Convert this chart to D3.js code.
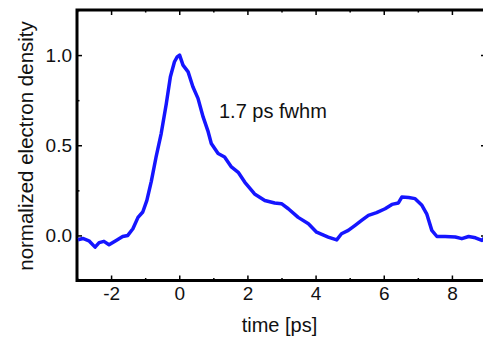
<!DOCTYPE html>
<meta charset="utf-8">
<head>
    <script type="text/javascript" src="https://cdn.jsdelivr.net/npm/d3@7"></script>
    <style>
        body { margin: 0; background: #fff; }
        text { font-family: "Liberation Sans", Arial, sans-serif; fill: #111; }
    </style>
    <title></title>
</head>
<body>
    <script>
        // data
        var times = [-2.97, -2.83, -2.65, -2.47, -2.35, -2.21, -2.06, -1.85, -1.66, -1.51,
                     -1.36, -1.21, -1.07, -0.95, -0.82, -0.68, -0.53, -0.38, -0.26, -0.14,
                     -0.06, 0.01, 0.11, 0.26, 0.40, 0.55, 0.70, 0.84, 0.94, 1.14,
                     1.33, 1.53, 1.73, 1.92, 2.21, 2.51, 2.80, 3.00, 3.20, 3.49,
                     3.79, 4.03, 4.37, 4.62, 4.76, 4.96, 5.16, 5.35, 5.55, 5.79,
                     6.04, 6.24, 6.43, 6.53, 6.73, 6.92, 7.12, 7.26, 7.41, 7.56,
                     7.80, 8.10, 8.29, 8.49, 8.69, 8.88, 8.97];
        var density = [-0.024, -0.017, -0.030, -0.065, -0.040, -0.033, -0.052, -0.028, -0.006, 0.000,
                       0.037, 0.100, 0.130, 0.194, 0.300, 0.435, 0.565, 0.730, 0.880, 0.963,
                       0.990, 1.000, 0.944, 0.907, 0.824, 0.760, 0.657, 0.580, 0.510, 0.454,
                       0.435, 0.380, 0.350, 0.296, 0.230, 0.194, 0.180, 0.176, 0.148, 0.100,
                       0.065, 0.018, -0.009, -0.025, 0.009, 0.028, 0.056, 0.083, 0.111, 0.126,
                       0.148, 0.172, 0.180, 0.213, 0.210, 0.204, 0.167, 0.120, 0.028, -0.006,
                       -0.006, -0.009, -0.018, -0.006, -0.013, -0.028, -0.010];
        var xMajor = [-2, 0, 2, 4, 6, 8];
        var xMinor = [-3, -1, 1, 3, 5, 7, 9];
        var yMajor = [0, 0.5, 1.0];
        var yMinor = [-0.25, 0.25, 0.75, 1.25];

        var width = 483, height = 338;
        var plot = {left: 77, right: 486, top: 10, bottom: 280.5};

        var svg = d3.select("body").append("svg")
            .attr("width", width)
            .attr("height", height);

        var x = d3.scaleLinear().domain([-3, 9]).range([plot.left, plot.right]);
        var y = d3.scaleLinear().domain([-0.25, 1.25]).range([plot.bottom, plot.top]);

        // ticks (pointing inward on all four sides)
        function ticks(axis, g) {
            g.call(axis);
            g.select(".domain").remove();
            g.selectAll("line").attr("stroke", "#000").attr("stroke-width", 1.5);
        }
        function at(tx, ty) {
            return svg.append("g").attr("transform", "translate(" + tx + "," + ty + ")");
        }
        var bx = at(0, plot.bottom);
        ticks(d3.axisBottom(x).tickValues(xMajor).tickSize(-5).tickPadding(6)
              .tickFormat(d => String(d)), bx);
        bx.selectAll("text").style("font-size", "19px").attr("fill", "#111");
        ticks(d3.axisBottom(x).tickValues(xMinor).tickSize(-2.5).tickFormat(""), at(0, plot.bottom));
        ticks(d3.axisTop(x).tickValues(xMajor).tickSize(-5).tickFormat(""), at(0, plot.top));
        ticks(d3.axisTop(x).tickValues(xMinor).tickSize(-2.5).tickFormat(""), at(0, plot.top));

        var ly = at(plot.left, 0);
        ticks(d3.axisLeft(y).tickValues(yMajor).tickSize(-5).tickPadding(5)
              .tickFormat(d3.format(".1f")), ly);
        ly.selectAll("text").style("font-size", "19px").attr("fill", "#111");
        ticks(d3.axisLeft(y).tickValues(yMinor).tickSize(-2.5).tickFormat(""), at(plot.left, 0));
        ticks(d3.axisRight(y).tickValues(yMajor).tickSize(-5).tickFormat(""), at(plot.right, 0));
        ticks(d3.axisRight(y).tickValues(yMinor).tickSize(-2.5).tickFormat(""), at(plot.right, 0));

        // frame
        svg.append("rect")
            .attr("x", plot.left).attr("y", plot.top)
            .attr("width", plot.right - plot.left).attr("height", plot.bottom - plot.top)
            .attr("fill", "none").attr("stroke", "#000").attr("stroke-width", 3);

        // trace
        var data = times.map(function(t, i) { return [t, density[i]]; });
        svg.append("path")
            .datum(data)
            .attr("fill", "none")
            .attr("stroke", "#1515ff")
            .attr("stroke-width", 3.5)
            .attr("stroke-linejoin", "round")
            .attr("d", d3.line().x(d => x(d[0])).y(d => y(d[1])));

        // labels
        svg.append("text")
            .attr("x", (plot.left + plot.right) / 2 - 2).attr("y", 332)
            .attr("text-anchor", "middle")
            .style("font-size", "20px")
            .text("time [ps]");
        svg.append("text")
            .attr("transform", "translate(33,146) rotate(-90)")
            .attr("text-anchor", "middle")
            .style("font-size", "20.5px")
            .text("normalized electron density");
        svg.append("text")
            .attr("x", 219).attr("y", 118)
            .style("font-size", "20px")
            .text("1.7 ps fwhm");
    </script>
</body>
</html>
